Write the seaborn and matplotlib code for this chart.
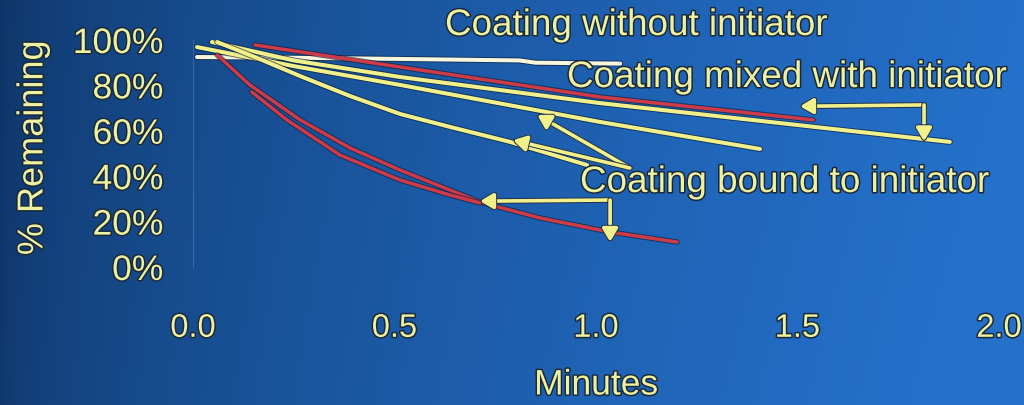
import numpy as np
import pandas as pd
import matplotlib
matplotlib.use("Agg")
import matplotlib.pyplot as plt
import matplotlib.patheffects as pe
import seaborn as sns

# ---------------- data ----------------
x_ticks = [0.0, 0.5, 1.0, 1.5, 2.0]
x_tick_labels = ["0.0", "0.5", "1.0", "1.5", "2.0"]
y_ticks = [0, 20, 40, 60, 80, 100]
y_tick_labels = ["0%", "20%", "40%", "60%", "80%", "100%"]

# Coating without initiator (white)
without_t = [0.01, 0.30, 0.54, 0.81, 0.85, 1.06]
without_v = [92.5, 92.1, 91.6, 91.0, 90.0, 89.6]

# Coating mixed with initiator (red and yellow runs)
mixed_red_t = [0.154, 0.514, 1.01, 1.539]
mixed_red_v = [97.8, 88.1, 74.9, 64.8]
mixed_yel_t = [0.047, 0.25, 0.514, 1.01, 1.457, 1.878]
mixed_yel_v = [99.1, 91.0, 83.7, 72.2, 63.4, 55.1]

# Coating bound to initiator (yellow runs)
bound_yel_a_t = [0.01, 0.25, 0.514, 1.01, 1.407]
bound_yel_a_v = [96.9, 88.5, 80.2, 63.9, 52.0]
bound_yel_b_t = [0.06, 0.159, 0.266, 0.39, 0.514, 0.638, 0.787, 0.978]
bound_yel_b_v = [99.1, 92.1, 84.1, 75.3, 67.4, 61.7, 55.1, 44.9]

# Coating bound to initiator (red runs)
bound_red_a_t = [0.06, 0.141, 0.266, 0.39, 0.514, 0.712, 0.861, 1.035, 1.201]
bound_red_a_v = [93.4, 80.2, 64.8, 52.4, 42.7, 28.6, 21.6, 15.4, 11.0]
bound_red_b_t = [0.146, 0.233, 0.365, 0.514, 0.638, 0.712]
bound_red_b_v = [77.1, 64.8, 49.3, 38.3, 31.7, 28.2]

x_label = "Minutes"
y_label = "% Remaining"
label_without = "Coating without initiator"
label_mixed = "Coating mixed with initiator"
label_bound = "Coating bound to initiator"

# ---------------- styling ----------------
sns.set_theme(style="white")
plt.rcParams["font.family"] = ["Liberation Sans", "DejaVu Sans"]

W, H = 1024, 405
fig = plt.figure(figsize=(W / 100, H / 100), dpi=100)

# background gradient
bg = fig.add_axes([0, 0, 1, 1], zorder=-10)
gx = np.linspace(0, 1, 256)[None, :]
gy = np.linspace(0, 1, 128)[:, None]
c_left = np.array([12, 46, 92]) / 255
c_right = np.array([36, 112, 202]) / 255
f = np.clip(0.10 + 0.90 * gx ** 0.6 + 0.06 * (1 - gy), 0, 1)
img = c_left[None, None, :] * (1 - f[..., None]) + c_right[None, None, :] * f[..., None]
bg.imshow(img, aspect="auto", extent=[0, 1, 0, 1], origin="lower")
bg.set_axis_off()

TXT = "#eef0a2"
YEL = "#f2f08a"
WHT = "#f8f6dc"
RED = "#cf3a48"
txt_fx = [pe.withStroke(linewidth=2.2, foreground="#1a2a3a")]

ax = fig.add_axes([193 / W, 1 - 267 / H, 806 / W, 227 / H])
ax.set_facecolor("none")
ax.patch.set_alpha(0)

def draw(t, v, color, lw):
    sns.lineplot(x=t, y=v, ax=ax, color=color, sort=False, estimator=None)
    line = ax.lines[-1]
    line.set_linewidth(lw)
    line.set_solid_capstyle("round")
    line.set_solid_joinstyle("round")
    line.set_path_effects([pe.Stroke(linewidth=lw + 1.4, foreground="#0b1f3a", alpha=0.65),
                           pe.Normal()])

draw(without_t, without_v, WHT, 2.9)
draw(mixed_yel_t, mixed_yel_v, YEL, 2.9)
draw(bound_yel_a_t, bound_yel_a_v, YEL, 2.9)
draw(bound_yel_b_t, bound_yel_b_v, YEL, 2.9)
draw(mixed_red_t, mixed_red_v, RED, 2.5)
draw(bound_red_a_t, bound_red_a_v, RED, 2.5)
draw(bound_red_b_t, bound_red_b_v, RED, 2.5)

ax.set_xlim(0, 2)
ax.set_ylim(0, 100)
ax.set_xticks(x_ticks)
ax.set_xticklabels(x_tick_labels)
ax.set_yticks(y_ticks)
ax.set_yticklabels(y_tick_labels)
for s in ["top", "right", "bottom"]:
    ax.spines[s].set_visible(False)
ax.spines["left"].set_color("#5f8cc0")
ax.spines["left"].set_alpha(0.45)
ax.spines["left"].set_linewidth(0.8)
ax.tick_params(axis="y", length=7, width=0.8, color="#7aa0cc", pad=14.5,
               labelsize=25.5, labelcolor=TXT)
ax.tick_params(axis="x", length=0, pad=33, labelsize=23.5, labelcolor=TXT)
for lab in ax.get_xticklabels() + ax.get_yticklabels():
    lab.set_path_effects(txt_fx)
ax.set_xlabel("")
ax.set_ylabel("")

fig.text(596 / W, 1 - 385 / H, x_label, ha="center", va="center",
         fontsize=25.5, color=TXT, path_effects=txt_fx)
fig.text(33 / W, 1 - 148 / H, y_label, ha="center", va="center",
         rotation=90, fontsize=26, color=TXT, path_effects=txt_fx)

# annotation texts
fig.text(445 / W, 1 - 35 / H, label_without, ha="left", va="baseline",
         fontsize=26.5, color=TXT, path_effects=txt_fx)
fig.text(567 / W, 1 - 87 / H, label_mixed, ha="left", va="baseline",
         fontsize=26.5, color=TXT, path_effects=txt_fx)
fig.text(580 / W, 1 - 192 / H, label_bound, ha="left", va="baseline",
         fontsize=26.5, color=TXT, path_effects=txt_fx)

# arrows
ap = dict(arrowstyle="-|>,head_length=0.65,head_width=0.38", color=YEL, lw=2.6,
          shrinkA=0, shrinkB=0,
          path_effects=[pe.withStroke(linewidth=4, foreground="#23324a")])
def arrow(x0, y0, x1, y1):
    ax.annotate("", xy=(x1, y1), xytext=(x0, y0), arrowprops=ap)

arrow(1.814, 71.4, 1.506, 70.8)
arrow(1.814, 71.4, 1.814, 55.3)
arrow(1.084, 43.6, 0.854, 67.0)
arrow(1.084, 43.6, 0.794, 55.9)
arrow(1.035, 29.5, 0.712, 29.0)
arrow(1.035, 29.5, 1.035, 11.0)

fig.savefig("out.png", dpi=100)
